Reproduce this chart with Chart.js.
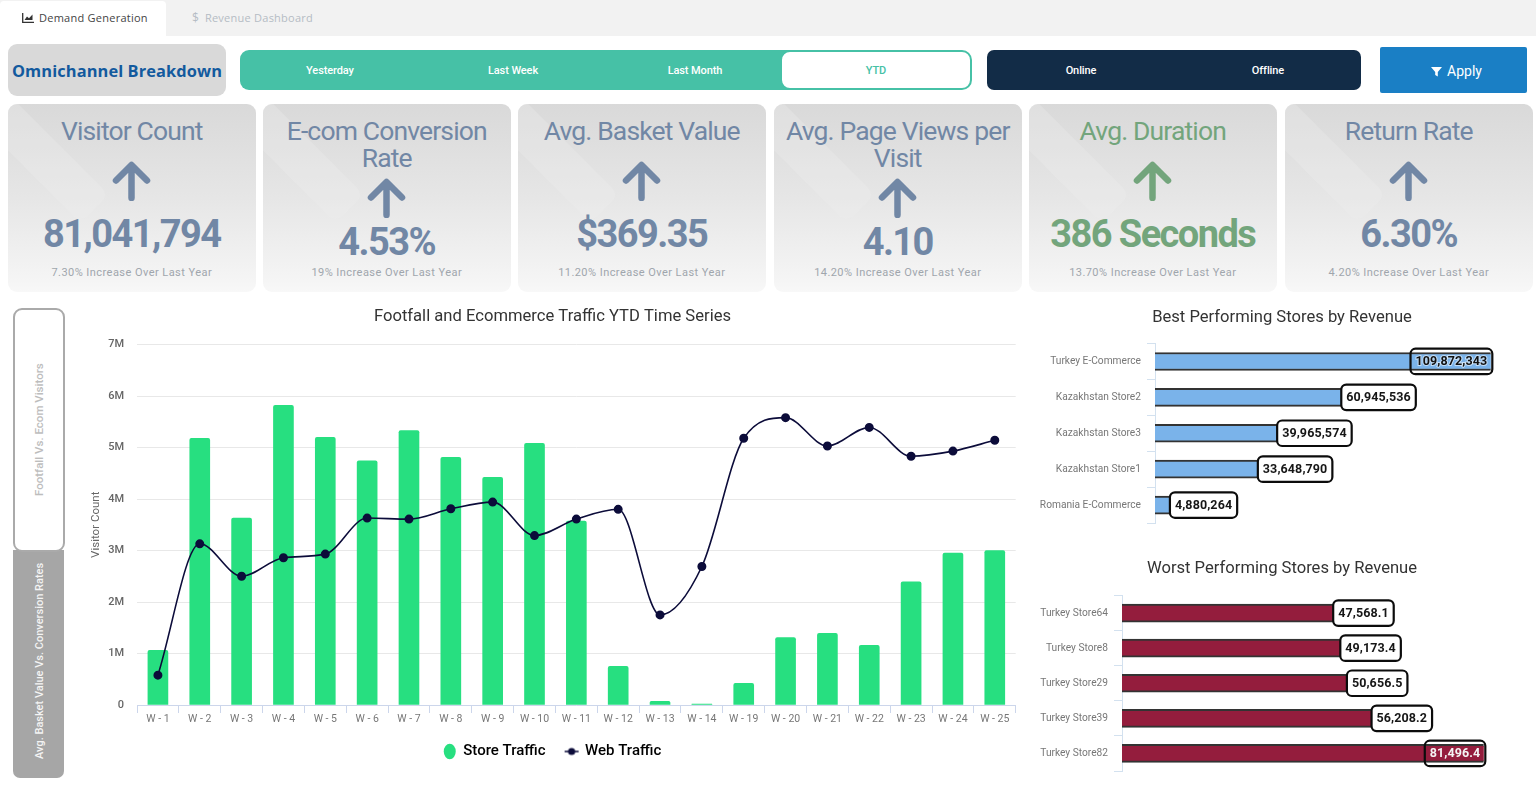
<!DOCTYPE html>
<html><head><meta charset="utf-8">
<script src="https://cdn.jsdelivr.net/npm/chart.js@4/dist/chart.umd.min.js"></script>
<style>
html,body{margin:0;padding:0;background:#fff;width:1536px;height:785px;overflow:hidden;font-family:Roboto,sans-serif}
.a{position:absolute;box-sizing:border-box}
.c{display:flex;align-items:center;justify-content:center}
.card{top:104px;height:188px;width:247.5px;border-radius:9px;overflow:hidden;background:linear-gradient(180deg,#d9d9d9 0%,#e6e6e6 50%,#f4f4f4 92%,#f8f8f8 100%);text-align:center}
.wm{position:absolute;left:3px;top:-49px;width:40px;height:180px;border-radius:9px;background:rgba(238,238,238,.3);transform:rotate(-45deg)}
.t{position:absolute;left:0;right:0;font-size:26.5px;line-height:27px;letter-spacing:-.85px;top:13px}
.v{position:absolute;left:0;right:0;font-weight:700;font-size:38px;line-height:40px;letter-spacing:-1.55px}
.s{position:absolute;left:0;right:0;top:162px;font-size:11px;line-height:14px;color:#a0a6ad;letter-spacing:.45px}
.seg{font-size:11px;font-weight:500;color:#fff;top:50px;height:40px;letter-spacing:-.1px}
canvas{position:absolute;display:block}
</style></head><body>
<div class="a" style="left:0;top:0;width:1536px;height:36px;background:#f2f2f2"></div>
<div class="a" style="left:0;top:1px;width:166px;height:36px;background:#fff;border-radius:4px 4px 0 0"></div>
<svg class="a" style="left:22px;top:13px" width="12" height="10" viewBox="0 0 12 10"><path d="M.7 0V9.3H12" fill="none" stroke="#333" stroke-width="1.3"/><path d="M2.5 7L5 3.5 7 5.2 10.5 1.5V7z" fill="#333"/></svg>
<div class="a" style="left:39px;top:11px;font:11px/14px 'Open Sans',sans-serif;color:#444;letter-spacing:.25px">Demand Generation</div>
<div class="a" style="left:192px;top:11px;font:11px/14px 'Open Sans',sans-serif;color:#b5bcc4;letter-spacing:.25px"><span style="margin-right:6px;font-size:12px;letter-spacing:0">$</span>Revenue Dashboard</div>

<div class="a c" style="left:8px;top:44px;width:218px;height:52px;background:#d9d9d9;border-radius:9px;font:700 16.4px 'Open Sans',sans-serif;color:#135a9e;letter-spacing:.1px">Omnichannel Breakdown</div>
<div class="a" style="left:240px;top:50px;width:560px;height:40px;background:#46c1a6;border-radius:9px"></div>
<div class="a seg c" style="left:780px;width:192px;background:#fff;border:2px solid #46c1a6;border-radius:10px;color:#46c1a6">YTD</div>
<div class="a seg c" style="left:240px;width:180px">Yesterday</div>
<div class="a seg c" style="left:423px;width:180px">Last Week</div>
<div class="a seg c" style="left:605px;width:180px">Last Month</div>
<div class="a" style="left:987px;top:50px;width:374px;height:40px;background:#122c47;border-radius:7px"></div>
<div class="a seg c" style="left:991px;width:180px">Online</div>
<div class="a seg c" style="left:1178px;width:180px">Offline</div>
<div class="a c" style="left:1380px;top:47px;width:147px;height:46px;background:#1a7fc5;border-radius:2px;color:#fff;font-size:14px;padding:2px 0 0 6px"><svg width="11" height="11" viewBox="0 0 11 11" style="margin-right:5px"><path d="M0 1H11L6.8 6V10.5L4.2 9V6z" fill="#fff"/></svg>Apply</div>

<div id="cards"></div>

<div class="a" style="left:13px;top:550px;width:51px;height:228px;background:#a6a6a6;border-radius:0 0 7px 7px"></div>
<div class="a" style="left:13px;top:308px;width:52px;height:244px;background:#fff;border:2px solid #aaa;border-radius:9px"></div>
<div class="a c" style="left:29px;top:308px;width:20px;height:244px;writing-mode:vertical-rl;transform:rotate(180deg);font-size:11.5px;font-weight:500;color:#bdbdbd">Footfall Vs. Ecom Visitors</div>
<div class="a c" style="left:29px;top:551px;width:20px;height:220px;writing-mode:vertical-rl;transform:rotate(180deg);font-size:11px;font-weight:500;color:#f4f4f4;white-space:nowrap">Avg. Basket Value Vs. Conversion Rates</div>

<canvas id="main" width="937" height="467" style="left:84px;top:302px"></canvas>
<canvas id="best" width="504" height="240" style="left:1030px;top:303px"></canvas>
<canvas id="worst" width="504" height="233" style="left:1030px;top:552px"></canvas>

<script>
const categories = ["W - 1","W - 2","W - 3","W - 4","W - 5","W - 6","W - 7","W - 8","W - 9","W - 10","W - 11","W - 12","W - 13","W - 14","W - 19","W - 20","W - 21","W - 22","W - 23","W - 24","W - 25"];
const storeTraffic = [1060000,5180000,3630000,5820000,5200000,4740000,5330000,4810000,4420000,5080000,3570000,750000,70000,20000,420000,1310000,1390000,1160000,2390000,2950000,3000000];
const webTraffic = [580000,3130000,2500000,2860000,2930000,3630000,3610000,3810000,3940000,3290000,3610000,3800000,1750000,2690000,5180000,5580000,5030000,5390000,4830000,4930000,5140000];
const bestStores = ["Turkey E-Commerce","Kazakhstan Store2","Kazakhstan Store3","Kazakhstan Store1","Romania E-Commerce"];
const bestRevenue = [109872343,60945536,39965574,33648790,4880264];
const worstStores = ["Turkey Store64","Turkey Store8","Turkey Store29","Turkey Store39","Turkey Store82"];
const worstRevenue = [47568.1,49173.4,50656.5,56208.2,81496.4];
const kpiTitles = [["Visitor Count"],["E-com Conversion","Rate"],["Avg. Basket Value"],["Avg. Page Views per","Visit"],["Avg. Duration"],["Return Rate"]];
const kpiValues = ["81,041,794","4.53%","$369.35","4.10","386 Seconds","6.30%"];
const kpiNotes = ["7.30% Increase Over Last Year","19% Increase Over Last Year","11.20% Increase Over Last Year","14.20% Increase Over Last Year","13.70% Increase Over Last Year","4.20% Increase Over Last Year"];
const kpiLefts = [8,263,518,774,1029,1285];
const kpiColors = ["#7187a5","#7187a5","#7187a5","#7187a5","#73a57c","#7187a5"];

document.getElementById('cards').innerHTML = kpiTitles.map((t,i)=>{
  const two=t.length>1, c=kpiColors[i];
  return `<div class="a card" style="left:${kpiLefts[i]}px"><div class="wm"></div>
  <div class="t" style="color:${c}">${t.join('<br>')}</div>
  <svg style="position:absolute;left:104px;top:${two?74:57}px" width="39" height="40" viewBox="0 0 39 40"><path d="M19.5 37V5M4 19.5L19.5 4 35 19.5" fill="none" stroke="${c}" stroke-width="6.5" stroke-linecap="round" stroke-linejoin="round"/></svg>
  <div class="v" style="color:${c};top:${two?118:110}px">${kpiValues[i]}</div>
  <div class="s">${kpiNotes[i]}</div></div>`;
}).join('');

Chart.defaults.font.family = 'Roboto, sans-serif';
Chart.defaults.animation = false;

const pillLabels = {
  id:'pillLabels',
  afterDatasetsDraw(chart,_,o){
    const ctx=chart.ctx, meta=chart.getDatasetMeta(0), vals=chart.data.datasets[0].data;
    ctx.save();
    ctx.font='700 12.5px Roboto, sans-serif';
    ctx.letterSpacing='0.1px';
    ctx.textBaseline='middle'; ctx.textAlign='center';
    meta.data.forEach((bar,i)=>{
      const txt=vals[i].toLocaleString('en-US',{minimumFractionDigits:o.digits,maximumFractionDigits:o.digits});
      const w=ctx.measureText(txt).width+10, h=25.5;
      const inside=vals[i]>=o.insideFrom;
      const x=inside?bar.x-w+1.5:bar.x, y=bar.y-h/2;
      ctx.beginPath(); ctx.roundRect(x,y,w,h,5);
      if(!inside){ctx.fillStyle='#fff';ctx.fill();}
      ctx.lineWidth=2.2; ctx.strokeStyle='#0c0c0c'; ctx.stroke();
      if(inside&&o.halo){ctx.strokeStyle='rgba(255,255,255,.55)';ctx.lineWidth=2;ctx.strokeText(txt,x+w/2,bar.y+.5);}
      ctx.fillStyle=inside?o.insideColor:'#161616';
      ctx.fillText(txt,x+w/2,bar.y+.5);
    });
    ctx.restore();
  }
};

const legendDot=document.createElement('canvas'); legendDot.width=20; legendDot.height=10;
(function(){const g=legendDot.getContext('2d');g.strokeStyle='#0c0c3a';g.fillStyle='#0c0c3a';g.lineWidth=1.5;g.beginPath();g.moveTo(3,5);g.lineTo(17,5);g.stroke();g.beginPath();g.arc(10,5,3.6,0,7);g.fill();})();

new Chart(document.getElementById('main'),{
  data:{labels:categories,datasets:[
    {type:'line',label:'Web Traffic',data:webTraffic,order:0,borderColor:'#0c0c3a',backgroundColor:'#0c0c3a',borderWidth:1.6,pointRadius:3.7,pointHoverRadius:3.7,cubicInterpolationMode:'monotone',pointBackgroundColor:'#0c0c3a'},
    {type:'bar',label:'Store Traffic',data:storeTraffic,order:1,backgroundColor:'#27df80',barThickness:20,borderRadius:2,borderSkipped:'bottom'}
  ]},
  options:{responsive:false,layout:{padding:0},
    plugins:{
      title:{display:true,text:'Footfall and Ecommerce Traffic YTD Time Series',color:'#333',font:{size:16.6,weight:'400'},padding:{top:5,bottom:17.6}},
      legend:{position:'bottom',labels:{
        usePointStyle:true,boxHeight:11,pointStyleWidth:12,padding:20,color:'#333',font:{size:15,weight:'500'},
        generateLabels(){return [
          {text:'Store Traffic',fillStyle:'#27df80',strokeStyle:'#27df80',lineWidth:0,pointStyle:'circle',datasetIndex:1},
          {text:'Web Traffic',fillStyle:'#0c0c3a',strokeStyle:'#0c0c3a',lineWidth:0,pointStyle:legendDot,datasetIndex:0}];}
      }},
      tooltip:{enabled:false}
    },
    scales:{
      x:{offset:true,grid:{drawOnChartArea:false,drawTicks:true,tickLength:8,color:'#ccd6eb',offset:true},border:{color:'#ccd6eb'},
        ticks:{color:'#777',font:{size:10.5},padding:0,autoSkip:false,maxRotation:0},
        afterFit(s){s.height=19;s.paddingLeft=0;s.paddingRight=0;}},
      y:{min:0,max:7000000,grid:{color:'#e8e8e8',drawTicks:false},border:{display:false},
        ticks:{stepSize:1000000,padding:13,color:'#666',font:{size:11,weight:'500'},callback:v=>v===0?'0':(v/1000000)+'M'},
        title:{display:true,text:'Visitor Count',color:'#666',font:{size:11.5,weight:'400'},padding:{top:4.8,bottom:0}},
        afterFit(s){s.width=53;}}
    }
  }
});

function hbar(id,labels,values,color,title,pad,axisMax,width,labelOpts,barT){
  new Chart(document.getElementById(id),{
    type:'bar',
    data:{labels,datasets:[{data:values,backgroundColor:color,borderColor:'#333',borderWidth:{top:2,bottom:2,left:0,right:0},borderSkipped:false,barThickness:barT}]},
    options:{indexAxis:'y',responsive:false,layout:{padding:{bottom:pad.bottom}},
      plugins:{legend:{display:false},tooltip:{enabled:false},
        title:{display:true,text:title,color:'#333',font:{size:16.6,weight:'400'},padding:{top:pad.top,bottom:pad.gap}},
        pillLabels:labelOpts},
      scales:{
        x:{display:false,min:0,max:axisMax},
        y:{grid:{drawOnChartArea:false,tickLength:8,color:'#d3e1ef',offset:true},border:{color:'#d3e1ef'},
          ticks:{color:'#777',font:{size:10.2},padding:6,autoSkip:false},
          afterFit(s){s.width=width;}}
      }
    },
    plugins:[pillLabels]
  });
}
hbar('best',bestStores,bestRevenue,'#7ab3ea','Best Performing Stores by Revenue',{top:5,gap:15.6,bottom:20},124000000,125,{digits:0,insideFrom:100000000,insideColor:'#111',halo:true},18);
hbar('worst',worstStores,worstRevenue,'#941d3d','Worst Performing Stores by Revenue',{top:7,gap:16.6,bottom:14},92800,92,{digits:1,insideFrom:80000,insideColor:'#f4f4f4',halo:false},18);
</script>
</body></html>
